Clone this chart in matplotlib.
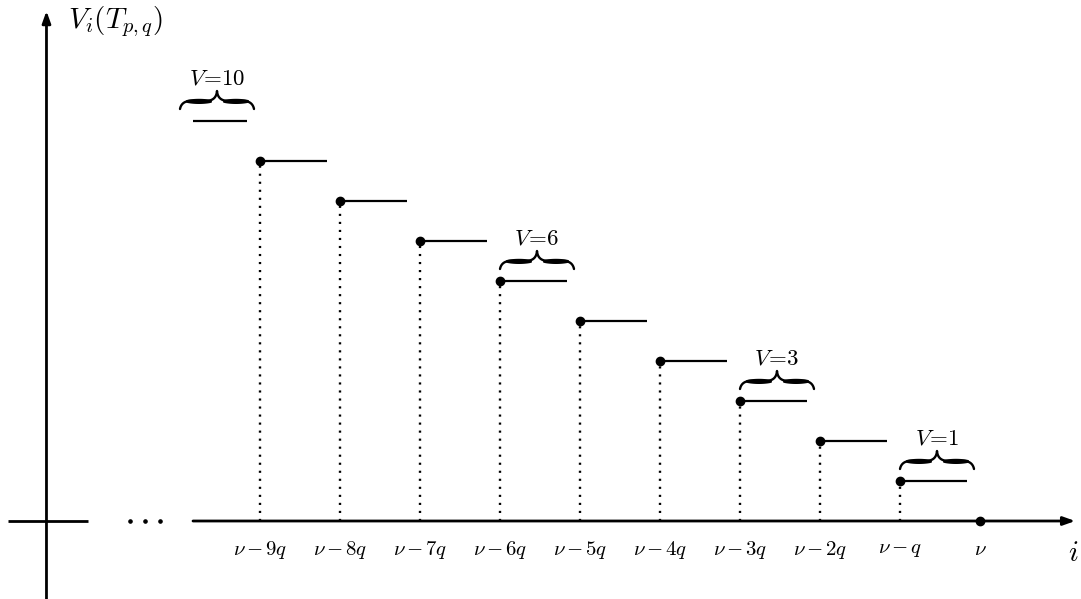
import numpy as np
import matplotlib
matplotlib.use("Agg")
import matplotlib.pyplot as plt

plt.rcParams['mathtext.fontset'] = 'cm'
plt.rcParams['font.family'] = 'DejaVu Serif'

# ---- data ----
offsets = [-9, -8, -7, -6, -5, -4, -3, -2, -1]          # position ν - k q  (units of q)
values = [9, 8, 7, 6, 5, 4, 3, 2, 1]                    # V_i(T_{p,q})
tick_labels = [r"$\nu\,{-}\,9q$", r"$\nu\,{-}\,8q$", r"$\nu\,{-}\,7q$", r"$\nu\,{-}\,6q$",
               r"$\nu\,{-}\,5q$", r"$\nu\,{-}\,4q$", r"$\nu\,{-}\,3q$", r"$\nu\,{-}\,2q$",
               r"$\nu\,{-}\,q$", r"$\nu$"]
tick_positions = offsets + [0]
brace_offsets = [-10, -6, -3, -1]
brace_values = [10, 6, 3, 1]
brace_labels = [r"$V\!=\!10$", r"$V\!=\!6$", r"$V\!=\!3$", r"$V\!=\!1$"]
partial_offset = -10
partial_value = 10

STEP = 0.8375
fig = plt.figure(figsize=(10.81, 5.99), dpi=100)
ax = fig.add_axes([0, 0, 1, 1])
ax.set_xlim(-12.25, 1.2625)
ax.set_ylim(-1.95, 13.025)
ax.axis('off')

AX_LW = 2.0
yaxis_x = -11.669
# y axis
ax.annotate("", xy=(yaxis_x, 12.75), xytext=(yaxis_x, -1.95),
            arrowprops=dict(arrowstyle='-|>,head_length=0.7,head_width=0.25', lw=AX_LW, color='black',
                            shrinkA=0, shrinkB=0))
# x axis pieces
ax.plot([-12.15, -11.15], [0, 0], color='black', lw=AX_LW, solid_capstyle='butt')
ax.plot([-10.625, -10.44, -10.25], [0, 0, 0], 'o', color='black', ms=2.3)
ax.annotate("", xy=(1.19, 0), xytext=(-9.8375, 0),
            arrowprops=dict(arrowstyle='-|>,head_length=0.7,head_width=0.25', lw=AX_LW, color='black',
                            shrinkA=0, shrinkB=0))

# steps
for k, v in zip(offsets, values):
    ax.plot([k, k], [0, v], color='black', lw=1.7, linestyle=(0, (0.9, 2.5)))
    ax.plot([k, k + STEP], [v, v], color='black', lw=1.6, solid_capstyle='butt')
    ax.plot([k], [v], 'o', color='black', ms=6)
ax.plot([0], [0], 'o', color='black', ms=6)
# partial (clipped) top step
ax.plot([-9.8375, partial_offset + STEP], [partial_value, partial_value], color='black', lw=1.6,
        solid_capstyle='butt')

# tick labels
for p, lab in zip(tick_positions, tick_labels):
    ax.text(p, -0.72, lab, ha='center', va='center', fontsize=15)

# axis labels
ax.text(-11.4, 12.48, r"$V_i(T_{p,q})$", ha='left', va='center', fontsize=21)
ax.text(1.16, -0.8, r"$i$", ha='center', va='center', fontsize=21)


def brace(x0, width, yb, h):
    a = 0.14 * width / 0.925
    xc = x0 + width / 2
    ym = yb + 0.45 * h
    yt = yb + h
    t = np.linspace(0, 1, 30)

    def qb(p0, p1, p2):
        return [(1 - t) ** 2 * p0[i] + 2 * (1 - t) * t * p1[i] + t ** 2 * p2[i] for i in range(2)]

    segs = []
    segs.append(qb((x0, yb), (x0 + 0.02, ym), (x0 + a, ym)))
    segs.append(([x0 + a, xc - a], [ym, ym]))
    segs.append(qb((xc - a, ym), (xc - 0.01, ym), (xc, yt)))
    segs.append(qb((xc, yt), (xc + 0.01, ym), (xc + a, ym)))
    segs.append(([xc + a, x0 + width - a], [ym, ym]))
    segs.append(qb((x0 + width - a, ym), (x0 + width - 0.02, ym), (x0 + width, yb)))
    xs = np.concatenate([np.asarray(s[0]) for s in segs])
    ys = np.concatenate([np.asarray(s[1]) for s in segs])
    ax.plot(xs, ys, color='black', lw=1.7, solid_capstyle='round')
    # thick middle parts of each half
    for xa, xb in [(x0 + a * 0.5, xc - a * 0.5), (xc + a * 0.5, x0 + width - a * 0.5)]:
        xx = np.linspace(xa, xb, 40)
        s = (xx - xa) / (xb - xa)
        th = 0.05 + 0.08 * np.sin(np.pi * s) ** 0.6
        ax.fill_between(xx, ym - th / 2, ym + th / 2, color='black', lw=0)


BW = 0.925
for k, v, lab in zip(brace_offsets, brace_values, brace_labels):
    brace(k, BW, v + 0.3, 0.45)
    ax.text(k + BW / 2, v + 1.07, lab, ha='center', va='center', fontsize=16.5)

fig.savefig("out.png", dpi=100)
